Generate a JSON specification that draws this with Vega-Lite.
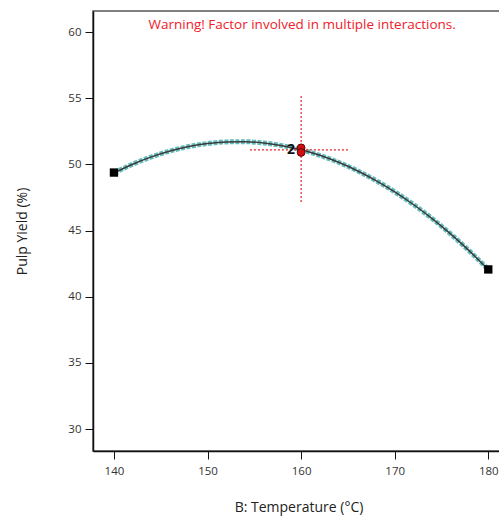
{
  "$schema": "https://vega.github.io/schema/vega-lite/v6.json",
  "width": 411,
  "height": 440,
  "autosize": {"type": "none"},
  "padding": {"left": 93, "top": 11, "right": 0, "bottom": 69},
  "config": {
    "font": "Open Sans",
    "view": {"stroke": "#555", "strokeWidth": 1.5},
    "axis": {
      "grid": false,
      "domainColor": "#111",
      "domainWidth": 1.5,
      "tickColor": "#111",
      "tickSize": 8,
      "labelFont": "Open Sans",
      "labelFontSize": 11.5,
      "labelColor": "#333",
      "titleFont": "Open Sans",
      "titleFontSize": 14,
      "titleFontWeight": "normal",
      "titleColor": "#222"
    }
  },
  "layer": [
    {
      "data": {"values": [
        {"temp": 140, "yield": 49.35}, {"temp": 142, "yield": 50.011}, {"temp": 144, "yield": 50.564},
        {"temp": 146, "yield": 51.009}, {"temp": 148, "yield": 51.346}, {"temp": 150, "yield": 51.575},
        {"temp": 152, "yield": 51.696}, {"temp": 154, "yield": 51.709}, {"temp": 156, "yield": 51.614},
        {"temp": 158, "yield": 51.411}, {"temp": 160, "yield": 51.1}, {"temp": 162, "yield": 50.681},
        {"temp": 164, "yield": 50.154}, {"temp": 166, "yield": 49.519}, {"temp": 168, "yield": 48.776},
        {"temp": 170, "yield": 47.925}, {"temp": 172, "yield": 46.966}, {"temp": 174, "yield": 45.899},
        {"temp": 176, "yield": 44.724}, {"temp": 178, "yield": 43.441}, {"temp": 180, "yield": 42.05}
      ]},
      "layer": [
        {
          "mark": {"type": "line", "interpolate": "monotone", "color": "#66bdbd", "strokeWidth": 5, "strokeDash": [4, 1.5]},
          "encoding": {
            "x": {"field": "temp", "type": "quantitative", "scale": {"domain": [137.76, 181.68], "nice": false, "zero": false},
              "axis": {"values": [140, 150, 160, 170, 180], "title": "B: Temperature (°C)", "titlePadding": 24, "labelPadding": 6}},
            "y": {"field": "yield", "type": "quantitative", "scale": {"domain": [28.34, 61.587], "nice": false, "zero": false},
              "axis": {"values": [30, 35, 40, 45, 50, 55, 60], "title": "Pulp Yield (%)", "titlePadding": 38, "labelPadding": 4}}
          }
        },
        {
          "mark": {"type": "line", "interpolate": "monotone", "color": "#3a3a3a", "strokeWidth": 1.5},
          "encoding": {
            "x": {"field": "temp", "type": "quantitative"},
            "y": {"field": "yield", "type": "quantitative"}
          }
        }
      ]
    },
    {
      "data": {"values": [
        {"x1": 160, "x2": 160, "y1": 47.15, "y2": 55.24},
        {"x1": 154.53, "x2": 165.22, "y1": 51.1, "y2": 51.1}
      ]},
      "mark": {"type": "rule", "color": "#e8202a", "strokeWidth": 1.2, "strokeDash": [2, 2]},
      "encoding": {
        "x": {"field": "x1", "type": "quantitative"},
        "x2": {"field": "x2"},
        "y": {"field": "y1", "type": "quantitative"},
        "y2": {"field": "y2"}
      }
    },
    {
      "data": {"values": [{"temp": 140, "yield": 49.38}, {"temp": 180, "yield": 42.06}]},
      "mark": {"type": "square", "color": "#000", "opacity": 1, "size": 70, "filled": true},
      "encoding": {
        "x": {"field": "temp", "type": "quantitative"},
        "y": {"field": "yield", "type": "quantitative"}
      }
    },
    {
      "data": {"values": [{"temp": 160, "yield": 51.25}, {"temp": 160, "yield": 50.9}]},
      "mark": {"type": "point", "shape": "circle", "filled": true, "fill": "#d01010", "stroke": "#6a0000", "strokeWidth": 1, "opacity": 1, "size": 60},
      "encoding": {
        "x": {"field": "temp", "type": "quantitative"},
        "y": {"field": "yield", "type": "quantitative"}
      }
    },
    {
      "data": {"values": [{"temp": 160, "yield": 51.1, "label": "2"}]},
      "mark": {"type": "text", "dx": -10, "dy": 0, "fontSize": 14, "fontWeight": "bold", "color": "#111", "baseline": "middle", "align": "center"},
      "encoding": {
        "x": {"field": "temp", "type": "quantitative"},
        "y": {"field": "yield", "type": "quantitative"},
        "text": {"field": "label"}
      }
    },
    {
      "data": {"values": [{"temp": 160, "yield": 60.53, "label": "Warning! Factor involved in multiple interactions."}]},
      "mark": {"type": "text", "fontSize": 13.5, "color": "#f0202a", "baseline": "middle", "align": "center", "dx": 1},
      "encoding": {
        "x": {"field": "temp", "type": "quantitative"},
        "y": {"field": "yield", "type": "quantitative"},
        "text": {"field": "label"}
      }
    }
  ]
}
